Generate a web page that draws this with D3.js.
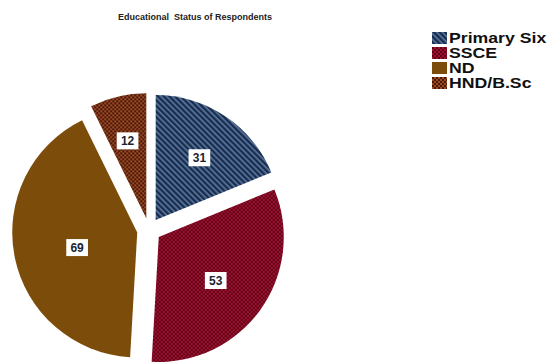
<!DOCTYPE html>
<html>
<head>
<meta charset="utf-8">
<script src="https://cdn.jsdelivr.net/npm/d3@7/dist/d3.min.js"></script>
<style>
  html, body { margin: 0; padding: 0; background: #ffffff; }
  svg { display: block; }
</style>
</head>
<body>
<svg id="chart" width="549" height="364"></svg>
<script>
// Respondents by highest educational qualification
const categories = ["Primary Six", "SSCE", "ND", "HND/B.Sc"];
const values = [31, 53, 69, 12];
const chartTitle = "Educational  Status of Respondents";

const width = 549, height = 364;
const cx = 149, cy = 230, radius = 125, explode = 12;

const svg = d3.select("#chart");
const defs = svg.append("defs");

// Fill patterns, one per category
function stripes(id, bg, fg) {
  const p = defs.append("pattern").attr("id", id)
    .attr("patternUnits", "userSpaceOnUse").attr("width", 4).attr("height", 4)
    .attr("patternTransform", "rotate(45)");
  p.append("rect").attr("width", 4).attr("height", 4).attr("fill", bg);
  p.append("rect").attr("width", 4).attr("height", 1.6).attr("fill", fg);
}
function checker(id, light, dark, size) {
  const p = defs.append("pattern").attr("id", id)
    .attr("patternUnits", "userSpaceOnUse").attr("width", size * 2).attr("height", size * 2);
  p.append("rect").attr("width", size * 2).attr("height", size * 2).attr("fill", light);
  p.append("rect").attr("width", size).attr("height", size).attr("fill", dark);
  p.append("rect").attr("x", size).attr("y", size).attr("width", size).attr("height", size).attr("fill", dark);
}
stripes("pat-primary", "#1a2c4c", "#5b7aa3");
checker("pat-ssce", "#a1102f", "#5c0419", 2);
checker("pat-hnd", "#9c4a22", "#4a180a", 2);

const fills = ["url(#pat-primary)", "url(#pat-ssce)", "#7c4c0a", "url(#pat-hnd)"];
const color = d3.scaleOrdinal().domain(categories).range(fills);

const pie = d3.pie().sort(null).value(d => d.value).startAngle(0).endAngle(2 * Math.PI);
const data = categories.map((c, i) => ({ category: c, value: values[i] }));
const arcs = pie(data);
const arc = d3.arc().innerRadius(0).outerRadius(radius);

// Title
svg.append("text")
  .attr("x", 195).attr("y", 20)
  .attr("text-anchor", "middle")
  .attr("font-family", "Liberation Sans, Arial, sans-serif")
  .attr("font-size", 9).attr("font-weight", "bold")
  .attr("fill", "#222")
  .style("white-space", "pre")
  .text(chartTitle);

// Exploded slices
const slices = svg.append("g").attr("transform", `translate(${cx},${cy})`)
  .selectAll("g.slice").data(arcs).join("g").attr("class", "slice")
  .attr("transform", d => {
    const mid = (d.startAngle + d.endAngle) / 2;
    return `translate(${Math.sin(mid) * explode},${-Math.cos(mid) * explode})`;
  });

slices.append("path")
  .attr("d", arc)
  .attr("fill", d => color(d.data.category));

// Value labels at each wedge's area centroid
slices.each(function (d) {
  const g = d3.select(this);
  const mid = (d.startAngle + d.endAngle) / 2;
  const half = (d.endAngle - d.startAngle) / 2;
  const dist = (2 / 3) * radius * Math.sin(half) / half;
  const x = Math.sin(mid) * dist, y = -Math.cos(mid) * dist + 3;
  const t = g.append("text")
    .attr("x", x).attr("y", y).attr("dy", "0.36em")
    .attr("text-anchor", "middle")
    .attr("font-family", "Liberation Sans, Arial, sans-serif")
    .attr("font-size", 12).attr("font-weight", "bold")
    .attr("fill", "#1c2230")
    .text(d.data.value);
  const bb = t.node().getBBox();
  g.insert("rect", "text")
    .attr("x", x - bb.width / 2 - 4).attr("y", y - 8.5)
    .attr("width", bb.width + 8).attr("height", 17)
    .attr("fill", "#ffffff");
});

// Legend
const legend = svg.append("g").attr("transform", "translate(432,32)");
const items = legend.selectAll("g").data(categories).join("g")
  .attr("transform", (d, i) => `translate(0,${i * 15})`);
items.append("rect")
  .attr("width", 15).attr("height", 12)
  .attr("fill", d => color(d));
items.append("text")
  .attr("transform", "translate(17,6) scale(1.22,1)")
  .attr("dy", "0.36em")
  .attr("font-family", "Liberation Sans, Arial, sans-serif")
  .attr("font-size", 14.5).attr("font-weight", "bold")
  .attr("fill", "#111")
  .text(d => d);
</script>
</body>
</html>
